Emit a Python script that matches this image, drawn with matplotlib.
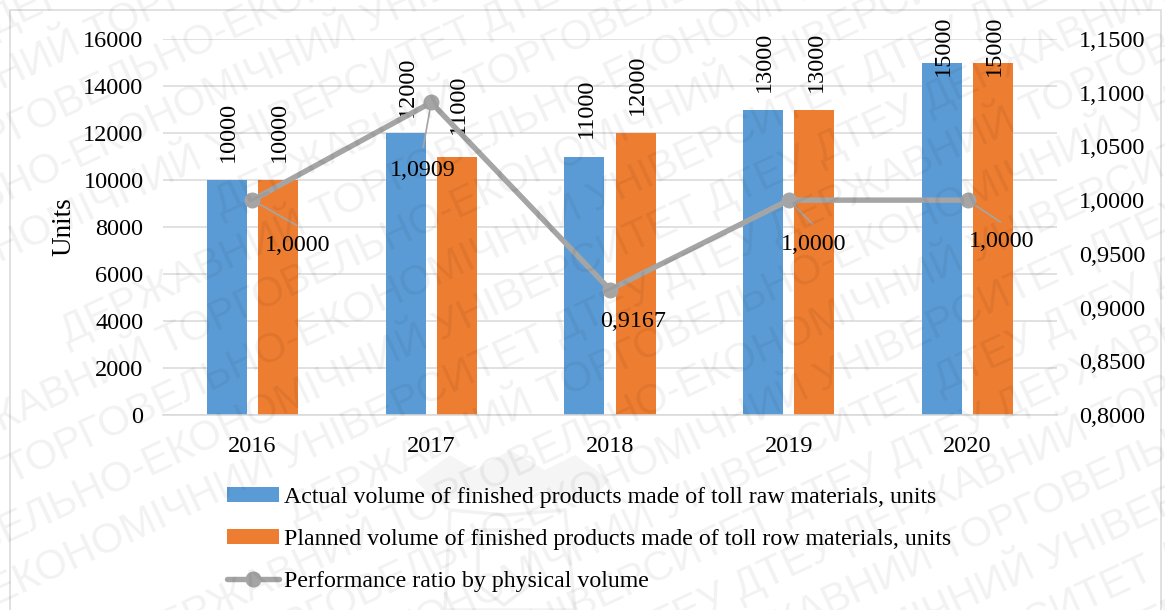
import matplotlib
matplotlib.use("Agg")
import matplotlib.pyplot as plt
import numpy as np
from matplotlib.patches import Rectangle, Polygon

years = ["2016", "2017", "2018", "2019", "2020"]
actual = [10000, 12000, 11000, 13000, 15000]
planned = [10000, 11000, 12000, 13000, 15000]
ratio = [1.0000, 1.0909, 0.9167, 1.0000, 1.0000]

# label placement in pixels, relative to bar tops and line points
actual_gap = [18, 16, 19, 18, -13]
planned_gap = [18, 22, 18, 18, -13]
ratio_offset = [(45, -45), (-8, -68), (23, -32), (25, -44), (34, -41)]
leader_end = [(44, -25), (-8, -45), None, (24, -24), (33, -22)]

W, H = 1165, 610
BLUE = "#5B9BD5"
ORANGE = "#ED7D31"
GREY = "#A5A5A5"
GRID = "#D9D9D9"

plt.rcParams["font.family"] = ["Liberation Serif", "DejaVu Serif"]
plt.rcParams["font.size"] = 17.5

fig = plt.figure(figsize=(W / 100, H / 100), dpi=100)
ax = fig.add_axes([163 / W, 1 - 415 / H, 894 / W, 376 / H])
ax.set_zorder(1)

x = np.arange(len(years))
w = 0.224
off = 0.143
bars1 = ax.bar(x - off, actual, w, color=BLUE, label="Actual volume of finished products made of toll raw materials, units", zorder=2)
bars2 = ax.bar(x + off, planned, w, color=ORANGE, label="Planned volume of finished products made of toll row materials, units", zorder=2)

ax.set_xlim(-0.5, 4.5)
ax.set_ylim(0, 16000)
ax.set_yticks(range(0, 16001, 2000))
ax.set_xticks(x)
ax.set_xticklabels(years)
ax.set_ylabel("Units", labelpad=5, fontsize=19.5)
ax.tick_params(axis="both", length=0)
ax.tick_params(axis="x", pad=15)
ax.tick_params(axis="y", pad=14)
ax.grid(axis="y", color=GRID, lw=1.1, zorder=0)
ax.set_axisbelow(True)
for s in ["top", "left", "right"]:
    ax.spines[s].set_visible(False)
ax.spines["bottom"].set_color(GRID)
ax.spines["bottom"].set_linewidth(1.1)

# value labels above the bars
for vals, gaps, xs in [(actual, actual_gap, x - off), (planned, planned_gap, x + off)]:
    for xi, v, g in zip(xs, vals, gaps):
        ax.annotate(str(v), (xi, v), xytext=(1.5, g), textcoords="offset pixels",
                    rotation=90, ha="center", va="bottom", fontsize=17.5, zorder=6,
                    annotation_clip=False)

ax2 = ax.twinx()
ax2.set_zorder(2)
ax2.set_ylim(0.8, 1.15)
ax2.set_yticks(np.arange(0, 8) * 0.05 + 0.8)
ax2.set_yticklabels([f"{t:.4f}".replace(".", ",") for t in np.arange(0, 8) * 0.05 + 0.8])
ax2.tick_params(axis="y", length=0, pad=16)
for s in ax2.spines.values():
    s.set_visible(False)
line, = ax2.plot(x, ratio, "-o", color=GREY, lw=3.9, ms=10.5, solid_capstyle="round",
                 label="Performance ratio by physical volume", zorder=4)

# ratio labels with their thin leader lines
for xi, r, o, e in zip(x, ratio, ratio_offset, leader_end):
    if e is not None:
        ax2.annotate("", (xi, r), xytext=e, textcoords="offset pixels",
                     arrowprops=dict(arrowstyle="-", color=GREY, lw=1.2, shrinkA=0, shrinkB=0))
    ax2.annotate(f"{r:.4f}".replace(".", ","), (xi, r), xytext=o, textcoords="offset pixels",
                 ha="center", va="center", fontsize=17.3, zorder=6)

fig.legend(handles=[bars1, bars2, line], loc="upper left",
           bbox_to_anchor=(227 / W, 1 - 487 / H), frameon=False, fontsize=17.2,
           handlelength=2.17, handleheight=0.55, handletextpad=0.22,
           labelspacing=0.88, borderpad=0, borderaxespad=0)

# outer chart frame
fig.add_artist(Rectangle((10 / W, -0.01), 1151 / W, 1 - 10 / H + 0.01, transform=fig.transFigure,
                         fill=False, edgecolor=GRID, lw=1.1, zorder=0))

# repeated diagonal watermark, each row slid along its own direction
wm = "ДЕРЖАВНИЙ ТОРГОВЕЛЬНО-ЕКОНОМІЧНИЙ УНІВЕРСИТЕТ ДТЕУ ДТЕУ "
angle = np.radians(25)
for i in range(0, 24):
    slide = -(i * 170) % 1100
    px = -700 + slide * np.cos(angle)
    py = -90 + i * 57 + 320 - slide * np.sin(angle)
    fig.text(px / W, 1 - py / H, wm * 2, rotation=25, rotation_mode="anchor",
             family=["Liberation Sans", "DejaVu Sans"], fontsize=30, color="#000000", alpha=0.055,
             ha="left", va="center", zorder=10)

# faint crest behind the legend: crown, open book, shield
def crest(pts, **kw):
    fig.add_artist(Polygon([(px / W, 1 - py / H) for px, py in pts], closed=True,
                           transform=fig.transFigure, zorder=9, **kw))

crest([(415, 480), (450, 455), (475, 470), (510, 450), (545, 470), (575, 455), (610, 480),
       (585, 505), (540, 490), (510, 500), (480, 490), (440, 505)],
      facecolor="#000000", edgecolor="none", alpha=0.04)
crest([(450, 510), (505, 515), (565, 510), (575, 610), (445, 610)],
      fill=False, edgecolor="#000000", lw=2.5, alpha=0.05)
crest([(478, 530), (530, 530), (530, 585), (504, 605), (478, 585)],
      fill=False, edgecolor="#000000", lw=2.5, alpha=0.06)

fig.savefig("out.png", dpi=100)
